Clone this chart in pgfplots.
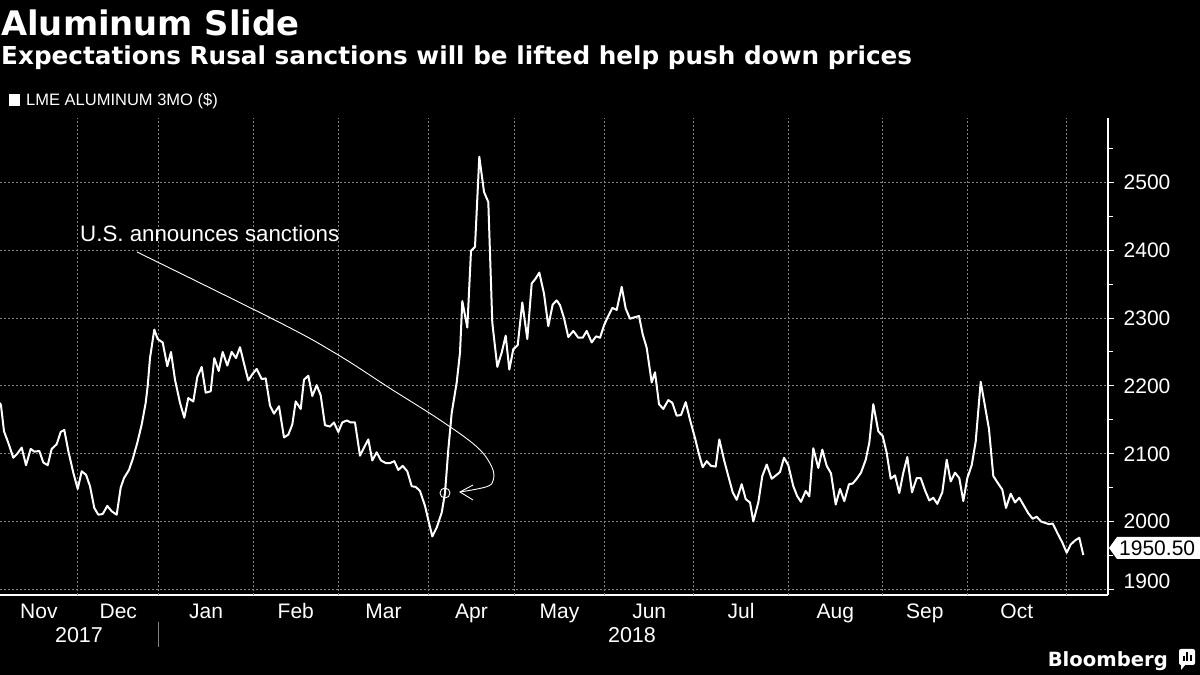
\documentclass[border=0pt]{standalone}
\usepackage{fontspec}
\setmainfont{Liberation Sans}
\newfontfamily\dv{DejaVu Sans}
\usepackage{pgfplots}
\pgfplotsset{compat=1.18}
\definecolor{gridgray}{RGB}{130,130,130}
\begin{document}
\begin{tikzpicture}[x=1pt,y=1pt]
\path[use as bounding box] (0,0) rectangle (1200,675);
\fill[black] (0,0) rectangle (1200,675);
\begin{axis}[
  at={(0pt,80pt)}, anchor=south west,
  width=1108pt, height=477pt, scale only axis,
  xmin=0, xmax=1108, ymin=1891.6, ymax=2595,
  axis x line=bottom, axis y line=right,
  axis line style={white, line width=1.2pt, -},
  tick align=outside,
  /pgf/number format/assume math mode=true,
  /pgf/number format/1000 sep={},
  ticklabel style={font=\fontsize{21}{21}\selectfont, text=white},
  xtick={38.9,118.3,206.1,295.8,383.5,471.5,559.5,649.2,741.1,835.4,924.9,1016.8},
  xticklabels={Nov,Dec,Jan,Feb,Mar,Apr,May,Jun,Jul,Aug,Sep,Oct},
  xticklabel style={anchor=north, inner sep=0pt, text height=15.5pt, text depth=4pt, yshift=-1.5pt},
  x tick style={draw=none},
  extra x ticks={77.7,158.8,253.3,338.3,428.6,514.3,604.6,693.8,788.3,882.4,967.4,1066.1},
  extra x tick labels={},
  extra x tick style={grid=major, major tick length=5pt, tick style={draw=white, line width=1pt}},
  ytick={2000,2100,2200,2300,2400,2500},
  minor ytick={1950,2050,2150,2250,2350,2450,2550},
  ymajorgrids,
  extra y ticks={1900},
  extra y tick style={grid=major, yticklabel style={yshift=8pt}},
  y tick style={draw=white, line width=1pt},
  major tick length=6pt, minor tick length=5pt,
  yticklabel style={anchor=west, inner sep=0pt, text height=15pt, text depth=0pt, xshift=9.5pt},
  major grid style={gridgray, line width=0.8pt, dash pattern=on 2pt off 2pt},
  clip=false,
]
\addplot[white, line width=2pt, line join=round] table {
x y
0 2175
1 2171
4 2133
8.3 2116
13.3 2094
17.3 2100
21.7 2109
26 2083
30.7 2107
34.3 2103
39.3 2104
43.3 2087
47.7 2083
51.7 2107
56.7 2114
60.7 2132
64.3 2135
68.3 2104
73.3 2072
77.7 2048
81.7 2074
86 2069
90 2052
94.3 2020
98.3 2010
102.7 2011
107.3 2023
111.7 2015
116.7 2010
120.7 2050
124 2064
129 2076
132.7 2092
137.3 2116
141.7 2143
145.7 2175
147.7 2200
150 2241
154.3 2283
157.7 2269
162.7 2264
167.3 2229
171 2250
175 2209
180 2175
184.3 2153
188.3 2182
193.3 2177
197.3 2213
201.7 2228
205.7 2190
210.7 2192
214.3 2241
218.7 2222
222.7 2250
227.3 2230
231.7 2250
236 2241
240 2257
245 2227
248.3 2208
252.3 2217
256.7 2225
261.7 2210
265.7 2211
270 2171
274 2159
279 2170
284 2124
288.3 2128
292.3 2143
295.7 2177
300.7 2166
304 2209
308.3 2215
312.3 2185
316.7 2201
320.7 2186
325 2142
330 2140
334 2146
338.3 2132
342.3 2146
346.7 2149
350.7 2146
355 2146
360 2097
364 2109
368.3 2121
372.3 2090
376.7 2102
381 2090
386 2086
390 2086
394.3 2089
398.3 2076
402.7 2082
407.3 2074
411.7 2052
415.7 2051
420 2045
425 2023
429 1998
432.3 1978
436.7 1991
441.7 2013
445 2042
448.3 2106
451.7 2160
456.7 2205
460 2249
462.3 2325
467.3 2286
471 2399
475 2405
479.3 2538
484 2486
488.3 2471
492.3 2293
497.3 2228
501.7 2249
505.7 2274
509.3 2224
513.3 2254
517.7 2260
522.3 2323
527.3 2269
531.7 2351
535.5 2358
539.3 2367
544 2336
548.3 2288
552.7 2320
556.7 2326
560 2319
564 2300
568.3 2272
573.3 2281
578.3 2271
582.7 2271
586.7 2281
591.7 2264
596 2273
600 2271
604 2289
607.3 2300
612.3 2315
616.7 2312
621.7 2346
625.7 2314
630 2299
634.3 2301
639 2303
642.7 2276
646.7 2256
651.7 2205
655 2220
659 2173
663.3 2166
668.3 2179
672.3 2175
676.7 2156
681 2157
685.7 2176
690 2150
695 2123
699 2099
702.7 2080
706.7 2089
711 2082
715.7 2081
719.3 2121
724 2091
728.3 2067
732.7 2043
736.7 2032
741.7 2055
745.7 2033
750 2028
753.3 2000
758.3 2028
762.3 2067
766.7 2084
771.7 2063
776 2068
780 2073
784 2094
788.3 2083
793.3 2052
797.3 2037
801 2029
805.7 2045
809.3 2037
813.3 2108
818.3 2079
822.3 2106
826.7 2082
831 2071
835.7 2025
840 2048
844.3 2030
849 2055
852.7 2056
856.7 2063
861 2072
865.7 2091
869.3 2116
873.3 2173
878.3 2133
882.7 2126
886.7 2101
890.7 2063
895 2068
899.3 2042
903.3 2072
907.3 2095
912 2043
916.7 2064
920.7 2064
925 2046
929.3 2031
933.3 2035
937.3 2026
942.3 2043
946.7 2091
950.7 2059
955 2072
959.3 2064
963.3 2030
967.3 2064
971.7 2083
975.7 2118
980.7 2206
985 2170
989 2136
993.3 2067
997.7 2057
1002.3 2047
1006 2020
1010.7 2041
1015 2028
1019.3 2035
1024 2023
1028.3 2012
1032.7 2004
1036.7 2007
1041 2000
1045 1998
1049 1996
1052.7 1997
1057.7 1982
1062.3 1969
1066.7 1954
1070.7 1966
1075 1972
1079.3 1976
1083.3 1950.5
};
\addplot[only marks, mark=o, mark size=5pt, white, mark options={line width=0.9pt}] coordinates {(445,2042)};
\end{axis}
% titles
\node[anchor=base west, inner sep=0pt, text=white] at (1,639) {\dv\bfseries\fontsize{33.8}{34}\selectfont Aluminum Slide};
\node[anchor=base west, inner sep=0pt, text=white] at (1,610.5) {\dv\bfseries\fontsize{24.7}{25}\selectfont Expectations Rusal sanctions will be lifted help push down prices};
% legend
\fill[white] (9,569) rectangle (20,581);
\node[anchor=base west, inner sep=0pt, text=white] at (26,569) {\fontsize{16.5}{17}\selectfont LME ALUMINUM 3MO (\$)};
% annotation
\node[anchor=base west, inner sep=0pt, text=white] at (80,433) {\fontsize{22.3}{23}\selectfont U.S. announces sanctions};
\draw[white, line width=0.9pt] plot[smooth, tension=0.6] coordinates {(137,423) (280,352.3) (338.3,320) (390,286.7) (440,255) (476.7,228.3) (491.7,208.3) (493.3,195) (486.7,188.3) (460,183)};
\draw[white, line width=0.9pt] (473,190) -- (460,183) -- (473,175);
% years
\node[text=white, inner sep=0pt] at (79,40) {\fontsize{21.5}{22}\selectfont 2017};
\node[text=white, inner sep=0pt] at (632,40) {\fontsize{21.5}{22}\selectfont 2018};
\draw[gridgray, line width=1pt] (158.8,53) -- (158.8,28);
% last value label
\fill[white] (1109,127) -- (1117,138) -- (1200,138) -- (1200,116) -- (1117,116) -- cycle;
\node[anchor=west, inner sep=0pt, text=black] at (1119,127) {\fontsize{21}{21}\selectfont 1950.50};
% Bloomberg
\node[anchor=base east, inner sep=0pt, text=white] at (1168,9) {\dv\bfseries\fontsize{19.6}{20}\selectfont Bloomberg};
\fill[white, rounded corners=2pt] (1179,10) rectangle (1195,26);
\fill[white] (1181,11) -- (1186,11) -- (1181,5) -- cycle;
\fill[black] (1182.5,14) rectangle (1184.5,19);
\fill[black] (1186,14) rectangle (1188,23);
\fill[black] (1189.5,14) rectangle (1191.5,20);
\end{tikzpicture}
\end{document}
